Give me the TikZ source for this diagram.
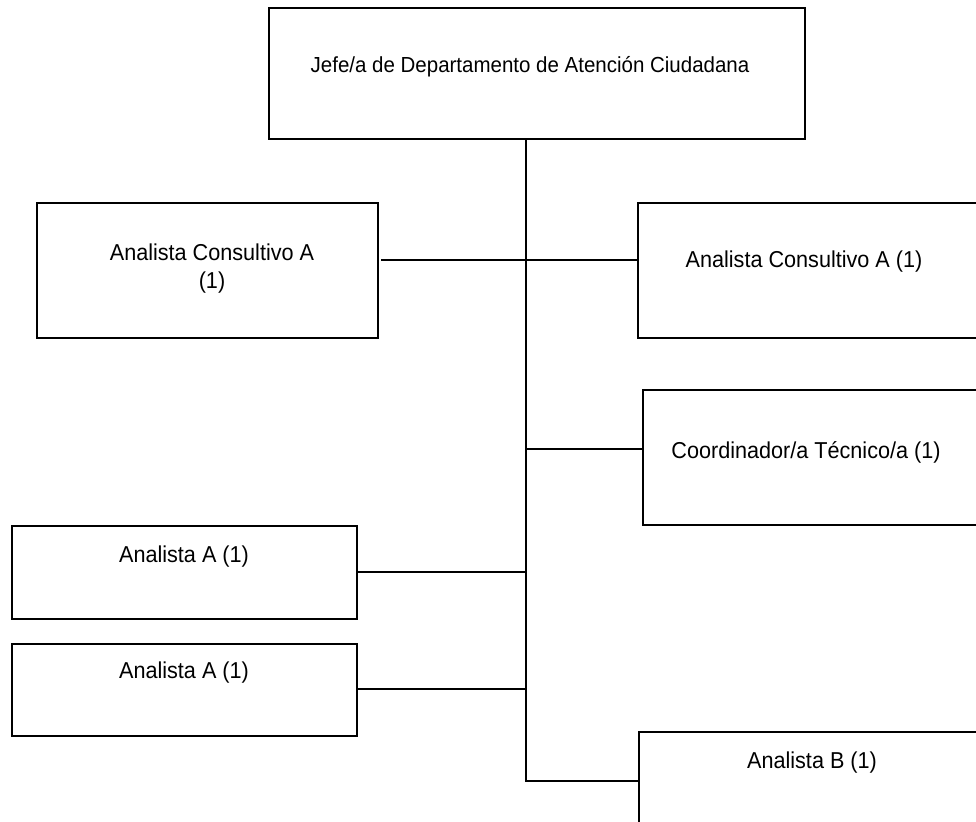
\documentclass[tikz,border=0pt]{standalone}
\usepackage{fontspec}
\setmainfont{Liberation Sans}
\newfontfamily\lblfont[FakeStretch=0.94]{Liberation Sans}
\begin{document}
\begin{tikzpicture}[x=1pt,y=-1pt,
  box/.style={draw=black,line width=1.1pt,rectangle,inner sep=0pt},
  lbl/.style={font=\lblfont\fontsize{23}{28}\selectfont,align=center,inner sep=0pt},
  toplbl/.style={font=\lblfont\fontsize{21.8}{26}\selectfont,align=center,inner sep=0pt},
  conn/.style={draw=black,line width=1.7pt}]
\useasboundingbox (0,0) rectangle (976,821);
% boxes
\draw[box] (269,8) rectangle (805,139);
\node[toplbl] (t0) at (530,67) {Jefe/a de Departamento de Atención Ciudadana};
\coordinate (b0) at (526,139);

\draw[box] (37,203) rectangle (378,338);
\node[lbl] (t1) at (212,269) {Analista Consultivo A\\(1)};
\coordinate (e1) at (381,260);

\draw[box] (638,203) rectangle (990,338);
\node[lbl] (t2) at (804,262) {Analista Consultivo A (1)};
\coordinate (e2) at (638,260);

\draw[box] (643,390) rectangle (990,525);
\node[lbl] (t3) at (806,452) {Coordinador/a Técnico/a (1)};
\coordinate (e3) at (643,449);

\draw[box] (12,526) rectangle (357,619);
\node[lbl] (t4) at (184,557) {Analista A (1)};
\coordinate (e4) at (357,572);

\draw[box] (12,644) rectangle (357,736);
\node[lbl] (t5) at (184,673) {Analista A (1)};
\coordinate (e5) at (357,689);

\draw[box] (639,732) rectangle (990,830);
\node[lbl] (t6) at (812,763) {Analista B (1)};
\coordinate (e6) at (639,781);

% trunk
\coordinate (j1) at (526,260);
\coordinate (j3) at (526,449);
\coordinate (j4) at (526,572);
\coordinate (j5) at (526,689);
\coordinate (j6) at (526,781);
\draw[conn] (b0) -- (j6) -- (e6);
\draw[conn] (e1) -- (j1) -- (e2);
\draw[conn] (j3) -- (e3);
\draw[conn] (e4) -- (j4);
\draw[conn] (e5) -- (j5);
\end{tikzpicture}
\end{document}
